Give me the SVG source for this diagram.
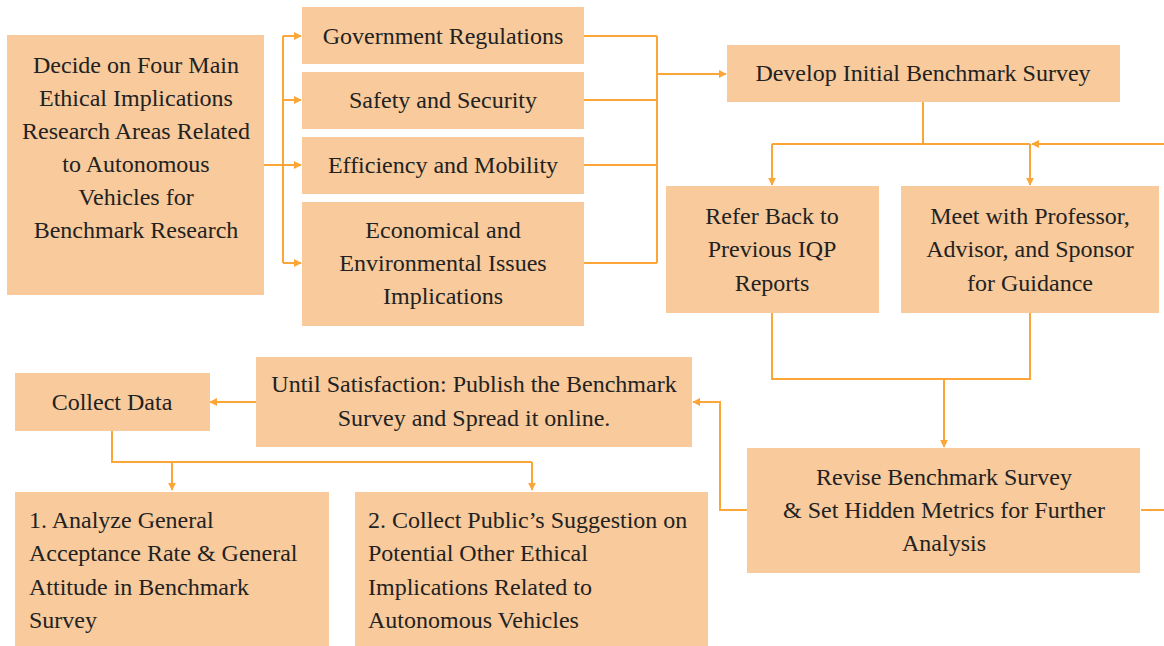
<svg xmlns="http://www.w3.org/2000/svg" width="1164" height="646" viewBox="0 0 1164 646">
<defs>
<marker id="ah" viewBox="0 0 10 10" refX="9" refY="5" markerWidth="4" markerHeight="4" orient="auto" markerUnits="strokeWidth">
<path d="M0,0 L10,5 L0,10 z" fill="#FBA636"/>
</marker>
</defs>
<rect width="1164" height="646" fill="#fff"/>

<g id="connectors" fill="none" stroke="#FBA636" stroke-width="2">
<path d="M264,165 H283"/>
<path d="M283,36 V263"/>
<path d="M283,36 H301" marker-end="url(#ah)"/>
<path d="M283,100 H301" marker-end="url(#ah)"/>
<path d="M283,165 H301" marker-end="url(#ah)"/>
<path d="M283,263 H301" marker-end="url(#ah)"/>
<path d="M584,36 H657 M584,100 H657 M584,165 H657 M584,263 H657 M657,36 V263"/>
<path d="M657,74 H726" marker-end="url(#ah)"/>
<path d="M923,102 V144 M772,144 H1030"/>
<path d="M772,144 V185" marker-end="url(#ah)"/>
<path d="M1030,144 V185" marker-end="url(#ah)"/>
<path d="M1141,510 H1180 V144 H1032" marker-end="url(#ah)"/>
<path d="M772,313 V379 H1030 V313"/>
<path d="M944,379 V447" marker-end="url(#ah)"/>
<path d="M747,510 H720 V402 H693" marker-end="url(#ah)"/>
<path d="M256,402 H210" marker-end="url(#ah)"/>
<path d="M112,431 V462 H532"/>
<path d="M172,462 V490" marker-end="url(#ah)"/>
<path d="M532,462 V490" marker-end="url(#ah)"/>
</g>

<g fill="#F8CA9C">
<g id="decide">
<rect x="7" y="35" width="257" height="260"/>
</g>
<g id="gov"><rect x="302" y="7" width="282" height="57"/></g>
<g id="safety"><rect x="302" y="72" width="282" height="57"/></g>
<g id="efficiency"><rect x="302" y="137" width="282" height="57"/></g>
<g id="economical"><rect x="302" y="202" width="282" height="124"/></g>
<g id="develop"><rect x="727" y="45" width="393" height="57"/></g>
<g id="refer"><rect x="666" y="186" width="213" height="127"/></g>
<g id="meet"><rect x="901" y="186" width="258" height="127"/></g>
<g id="revise"><rect x="747" y="448" width="393" height="125"/></g>
<g id="publish"><rect x="256" y="357" width="436" height="90"/></g>
<g id="collect"><rect x="15" y="373" width="195" height="58"/></g>
<g id="analyze"><rect x="15" y="492" width="314" height="170"/></g>
<g id="suggestion"><rect x="355" y="492" width="353" height="170"/></g>
</g>

<g id="labels" fill="#222">
<g text-anchor="middle">
<text font-family="Liberation Serif" font-size="24" x="136" y="73">Decide on Four Main</text>
<text font-family="Liberation Serif" font-size="24" x="136" y="106">Ethical Implications</text>
<text font-family="Liberation Serif" font-size="24" x="136" y="139">Research Areas Related</text>
<text font-family="Liberation Serif" font-size="24" x="136" y="172">to Autonomous</text>
<text font-family="Liberation Serif" font-size="24" x="136" y="205">Vehicles for</text>
<text font-family="Liberation Serif" font-size="24" x="136" y="238">Benchmark Research</text>
<text font-family="Liberation Serif" font-size="24" x="443" y="44">Government Regulations</text>
<text font-family="Liberation Serif" font-size="24" x="443" y="108">Safety and Security</text>
<text font-family="Liberation Serif" font-size="24" x="443" y="173">Efficiency and Mobility</text>
<text font-family="Liberation Serif" font-size="24" x="443" y="238">Economical and</text>
<text font-family="Liberation Serif" font-size="24" x="443" y="271">Environmental Issues</text>
<text font-family="Liberation Serif" font-size="24" x="443" y="304">Implications</text>
<text font-family="Liberation Serif" font-size="24" x="923" y="81">Develop Initial Benchmark Survey</text>
<text font-family="Liberation Serif" font-size="24" x="772" y="224">Refer Back to</text>
<text font-family="Liberation Serif" font-size="24" x="772" y="257">Previous IQP</text>
<text font-family="Liberation Serif" font-size="24" x="772" y="291">Reports</text>
<text font-family="Liberation Serif" font-size="24" x="1030" y="224">Meet with Professor,</text>
<text font-family="Liberation Serif" font-size="24" x="1030" y="257">Advisor, and Sponsor</text>
<text font-family="Liberation Serif" font-size="24" x="1030" y="291">for Guidance</text>
<text font-family="Liberation Serif" font-size="24" x="944" y="485">Revise Benchmark Survey</text>
<text font-family="Liberation Serif" font-size="24" x="944" y="518">&amp; Set Hidden Metrics for Further</text>
<text font-family="Liberation Serif" font-size="24" x="944" y="551">Analysis</text>
<text font-family="Liberation Serif" font-size="24" x="474" y="392">Until Satisfaction: Publish the Benchmark</text>
<text font-family="Liberation Serif" font-size="24" x="474" y="426">Survey and Spread it online.</text>
<text font-family="Liberation Serif" font-size="24" x="112" y="410">Collect Data</text>
</g>
<text font-family="Liberation Serif" font-size="24" x="29" y="528">1. Analyze General</text>
<text font-family="Liberation Serif" font-size="24" x="29" y="561">Acceptance Rate &amp; General</text>
<text font-family="Liberation Serif" font-size="24" x="29" y="595">Attitude in Benchmark</text>
<text font-family="Liberation Serif" font-size="24" x="29" y="628">Survey</text>
<text font-family="Liberation Serif" font-size="24" x="368" y="528">2. Collect Public’s Suggestion on</text>
<text font-family="Liberation Serif" font-size="24" x="368" y="561">Potential Other Ethical</text>
<text font-family="Liberation Serif" font-size="24" x="368" y="595">Implications Related to</text>
<text font-family="Liberation Serif" font-size="24" x="368" y="628">Autonomous Vehicles</text>
</g>
</svg>
